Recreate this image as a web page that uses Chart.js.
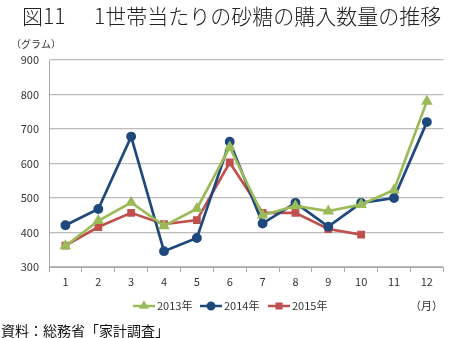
<!DOCTYPE html>
<html>
<head>
<meta charset="utf-8">
<script src="https://cdn.jsdelivr.net/npm/chart.js@4"></script>
<style>
  html, body { margin: 0; padding: 0; background: #fff; }
  #wrap { width: 450px; height: 338px; position: relative; }
</style>
</head>
<body>
<div id="wrap"><canvas id="myChart" width="450" height="338"></canvas></div>
<script>
// data
var months = ["1", "2", "3", "4", "5", "6", "7", "8", "9", "10", "11", "12"];
var sugar2013 = [361, 434, 487, 419, 469, 647, 450, 477, 462, 481, 523, 780];
var sugar2014 = [421, 468, 678, 346, 384, 663, 426, 486, 417, 486, 500, 720];
var sugar2015 = [362, 416, 457, 424, 436, 603, 457, 457, 410, 394, null, null];
var yTicks = [300, 400, 500, 600, 700, 800, 900];

var jp = "'Noto Sans CJK JP', 'Noto Sans', sans-serif";

var green = "#9bbb59";
var blue = "#1f497d";
var red = "#c0504d";

// texts outside the plot + the legend strip
var extras = {
  id: "extras",
  afterDraw: function(chart) {
    var ctx = chart.ctx;
    ctx.save();
    ctx.fillStyle = "#222";
    ctx.textBaseline = "middle";
    ctx.textAlign = "left";
    ctx.font = "300 21px " + jp;
    ctx.fillText("図11", 22, 16);
    ctx.fillText("1世帯当たりの砂糖の購入数量の推移", 94, 16);

    ctx.fillStyle = "#333";
    ctx.font = "10px " + jp;
    ctx.fillText("（グラム）", 11, 44);

    ctx.font = "11px " + jp;
    ctx.fillText("（月）", 410, 306);

    ctx.fillStyle = "#111";
    ctx.font = "14px " + jp;
    ctx.fillText("資料：総務省「家計調査」", 1, 331);

    // legend
    var items = [[133, 0], [200, 1], [268, 2]];
    items.forEach(function(it) {
      var ds = chart.data.datasets[it[1]];
      var x0 = it[0], y = 306;
      ctx.strokeStyle = ds.borderColor;
      ctx.lineWidth = 2.5;
      ctx.beginPath();
      ctx.moveTo(x0, y);
      ctx.lineTo(x0 + 22, y);
      ctx.stroke();
      Chart.helpers.drawPoint(ctx, {
        pointStyle: ds.pointStyle, radius: 3.2, borderWidth: 1
      }, x0 + 11, y);
      ctx.fillStyle = ds.borderColor;
      ctx.fill();
      ctx.fillStyle = "#333";
      ctx.font = "11px " + jp;
      ctx.fillText(ds.label, x0 + 24, y);
    });
    ctx.restore();
  }
};

var data = {
  labels: months,
  datasets: [{
    label: "2013年",
    data: sugar2013,
    borderColor: green,
    backgroundColor: green,
    pointStyle: "triangle",
    pointRadius: 4,
    borderWidth: 2.7
  }, {
    label: "2014年",
    data: sugar2014,
    borderColor: blue,
    backgroundColor: blue,
    pointStyle: "circle",
    pointRadius: 3.6,
    borderWidth: 2.7
  }, {
    label: "2015年",
    data: sugar2015,
    borderColor: red,
    backgroundColor: red,
    pointStyle: "rect",
    pointRadius: 3.6,
    borderWidth: 2.7
  }]
};

var config = {
  type: "line",
  data: data,
  plugins: [extras],
  options: {
    responsive: false,
    animation: false,
    layout: { padding: { top: 60, left: 0, right: 4, bottom: 49 } },
    plugins: {
      legend: { display: false },
      tooltip: { enabled: false }
    },
    elements: { line: { tension: 0 }, point: { borderWidth: 1 } },
    scales: {
      x: {
        offset: true,
        grid: { offset: true, drawOnChartArea: false, color: "#aaa", tickLength: 5 },
        border: { color: "#aaa" },
        ticks: { color: "#333", font: { family: jp, size: 11 }, padding: 3 },
        afterFit: function(s) { s.height = 22; }
      },
      y: {
        min: 300,
        max: 900,
        afterBuildTicks: function(s) { s.ticks = yTicks.map(function(v) { return { value: v }; }); },
        grid: { color: "#bbb", lineWidth: 1.2, drawTicks: false },
        border: { color: "#aaa" },
        ticks: { color: "#333", font: { family: jp, size: 11 }, padding: 10 },
        afterFit: function(s) { s.width = 49; }
      }
    }
  }
};

var myChart = new Chart(document.getElementById("myChart"), config);
</script>
</body>
</html>
